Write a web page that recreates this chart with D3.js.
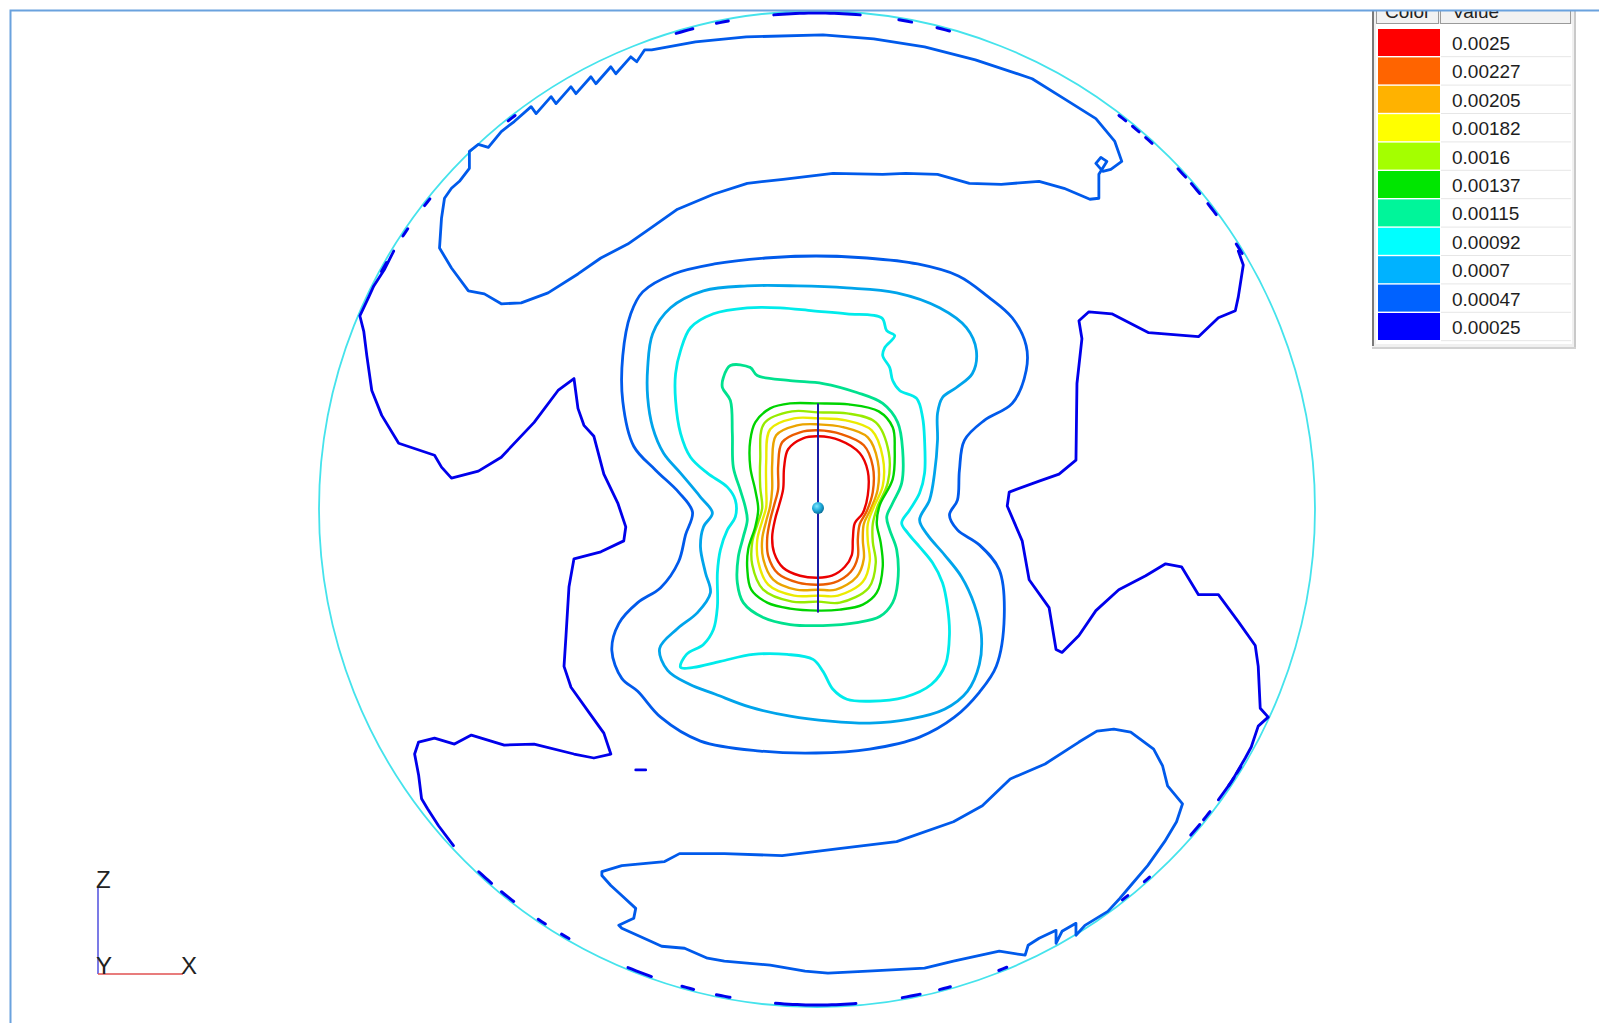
<!DOCTYPE html>
<html>
<head>
<meta charset="utf-8">
<script src="https://cdn.jsdelivr.net/npm/d3@7"></script>
<style>
  html, body { margin: 0; padding: 0; background: #fff; }
  svg { display: block; }
  text { font-family: "Liberation Sans", Arial, sans-serif; }
</style>
</head>
<body>
<div id="chart"></div>
<script>
// legend levels, highest first, and their colours
const levels = ["0.0025", "0.00227", "0.00205", "0.00182", "0.0016", "0.00137", "0.00115", "0.00092", "0.0007", "0.00047", "0.00025"];
const levelColors = ["#ff0000", "#ff6400", "#ffb200", "#ffff00", "#a4ff00", "#00e600", "#00f59a", "#00ffff", "#00b2ff", "#0062ff", "#0000ff"];

// disc radius (mm) and source segment, [x, z] mm from the disc centre
const discRadius = 500;
const sourceLine = [[1, 106], [1, -104]];
const sourcePoint = [1, 1];

// contour rings around the source, [x, z] mm
const ring0025 = [[1,73],[23,69],[43,56],[51,38],[51,14],[46,-4],[38,-14],[36,-30],[35,-46],[28,-58],[15,-67],[1,-69],[-17,-67],[-34,-59],[-43,-44],[-45,-28],[-42,-10],[-38,4],[-34,20],[-33,42],[-29,60],[-14,71]];
const ring00227 = [[1,79],[25,75],[47,64],[56,43],[56,17],[50,-2],[43,-15],[41,-30],[41,-48],[34,-63],[17,-74],[1,-76],[-19,-74],[-39,-65],[-49,-47],[-50,-29],[-47,-11],[-43,4],[-39,20],[-39,43],[-35,67],[-17,77]];
const ring00205 = [[1,85],[27,82],[51,72],[61,48],[61,20],[54,0],[47,-15],[46,-31],[47,-50],[40,-68],[19,-81],[1,-81],[-21,-81],[-44,-71],[-54,-50],[-55,-30],[-51,-12],[-47,3],[-45,20],[-45,45],[-41,74],[-20,84]];
const ring00182 = [[1,91],[29,89],[55,79],[66,52],[66,23],[57,2],[51,-15],[51,-32],[53,-52],[46,-73],[21,-87],[1,-87],[-23,-87],[-49,-76],[-59,-53],[-60,-31],[-55,-12],[-51,2],[-51,21],[-51,47],[-47,80],[-23,91]];
const ring0016 = [[1,97],[30,96],[59,87],[72,57],[71,26],[61,3],[56,-15],[56,-33],[59,-54],[52,-79],[23,-94],[1,-93],[-25,-93],[-54,-81],[-65,-56],[-65,-33],[-59,-13],[-55,1],[-57,22],[-57,49],[-53,86],[-25,98]];
const ring00137 = [[1,106],[32,105],[62,98],[76,82],[78,60],[76,30],[63,4],[60,-14],[64,-34],[66,-58],[60,-84],[46,-96],[23,-101],[1,-102],[-27,-100],[-50,-94],[-66,-81],[-70,-60],[-69,-40],[-62,-18],[-59,0],[-62,19],[-67,42],[-67,69],[-62,87],[-47,101],[-27,106]];
const ring00115 = [[-87,144],[-67,142],[-60,134],[-27,129],[6,126],[40,117],[66,106],[81,87],[86,59],[85,26],[76,6],[70,-8],[73,-21],[80,-41],[81,-74],[76,-94],[63,-108],[40,-114],[6,-117],[-27,-116],[-54,-109],[-74,-94],[-80,-74],[-79,-48],[-74,-28],[-70,-11],[-72,2],[-77,19],[-84,42],[-85,76],[-87,109],[-95,122],[-94,132]];
const ring00092 = [[-137,159],[-127,182],[-104,196],[-70,202],[-37,202],[-4,199],[30,196],[65,192],[70,179],[78,174],[68,162],[66,154],[73,142],[76,129],[83,119],[100,111],[106,92],[108,69],[108,36],[103,16],[93,-1],[85,-14],[91,-24],[103,-38],[116,-54],[126,-74],[131,-98],[133,-126],[129,-156],[115,-176],[88,-189],[53,-193],[30,-191],[16,-181],[6,-163],[-4,-151],[-30,-146],[-64,-146],[-97,-153],[-124,-159],[-137,-159],[-131,-146],[-114,-136],[-104,-121],[-100,-98],[-100,-64],[-97,-41],[-90,-21],[-82,-8],[-82,9],[-90,22],[-110,36],[-127,52],[-137,76],[-142,109],[-142,136]];
const ring0007 = [[-170,142],[-165,176],[-147,202],[-114,219],[-70,224],[-20,224],[30,222],[80,217],[123,202],[150,182],[160,159],[156,136],[140,122],[126,112],[121,96],[121,69],[118,36],[113,9],[103,-11],[111,-26],[128,-46],[145,-68],[158,-96],[165,-126],[163,-156],[151,-183],[128,-201],[93,-211],[53,-215],[13,-213],[-27,-208],[-67,-199],[-102,-186],[-128,-176],[-150,-162],[-158,-140],[-140,-120],[-120,-104],[-107,-84],[-112,-64],[-117,-38],[-114,-18],[-105,-4],[-117,12],[-137,36],[-154,56],[-165,82],[-170,112]];
const ring00047 = [[-175,218],[-144,236],[-103,246],[-52,252],[-1,254],[50,252],[101,246],[142,234],[172,213],[196,192],[210,164],[210,139],[196,106],[168,89],[148,69],[143,39],[141,9],[133,-6],[141,-21],[163,-36],[183,-61],[188,-108],[180,-158],[163,-184],[138,-209],[103,-229],[53,-241],[-1,-245],[-57,-243],[-117,-233],[-157,-209],[-180,-183],[-196,-170],[-206,-142],[-199,-115],[-180,-94],[-157,-79],[-139,-53],[-132,-26],[-125,-3],[-139,17],[-162,39],[-184,63],[-195,108],[-195,154],[-187,196]];

// outer bands (0.00047) near the top and the bottom of the disc
const topBand = [[-349,359],[-340,366],[-330,363],[-317,379],[-304,389],[-287,404],[-282,397],[-267,414],[-262,407],[-247,424],[-242,417],[-227,434],[-222,427],[-207,444],[-202,437],[-187,454],[-181,449],[-173,461],[-166,461],[-122,469],[-71,474],[6,476],[57,472],[108,464],[159,451],[216,432],[248,412],[280,392],[299,369],[306,349],[295,341],[287,339],[280,347],[285,353],[291,349],[283,336],[283,312],[274,311],[248,322],[223,329],[185,326],[153,327],[121,336],[89,337],[66,336],[16,337],[-34,331],[-70,327],[-104,316],[-140,301],[-167,282],[-190,266],[-217,252],[-240,236],[-270,217],[-297,207],[-317,206],[-334,216],[-350,219],[-367,242],[-379,262],[-377,292],[-374,312],[-367,322],[-359,329],[-349,342]];
const bottomBand = [[-216,-364],[-196,-358],[-153,-354],[-138,-346],[-93,-346],[-35,-348],[22,-341],[80,-334],[137,-314],[166,-298],[194,-271],[229,-256],[263,-234],[281,-223],[298,-221],[315,-224],[338,-241],[347,-258],[352,-278],[367,-296],[361,-314],[349,-334],[332,-358],[315,-378],[304,-391],[292,-404],[269,-418],[260,-428],[260,-416],[246,-424],[240,-436],[240,-423],[223,-431],[212,-438],[209,-448],[183,-444],[137,-454],[108,-461],[51,-464],[11,-466],[-12,-464],[-47,-458],[-93,-454],[-110,-451],[-133,-441],[-156,-439],[-167,-434],[-196,-421],[-199,-418],[-184,-411],[-182,-401],[-196,-388],[-207,-378],[-216,-368]];

// outermost 0.00025 contours on the left and right, open lines ending on the rim
const leftOuter = [[-425,259],[-434,241],[-445,224],[-450,213],[-459,194],[-455,178],[-452,154],[-447,119],[-437,94],[-420,66],[-384,54],[-377,42],[-367,31],[-340,38],[-317,52],[-284,87],[-260,119],[-244,131],[-240,101],[-234,84],[-224,73],[-214,35],[-200,6],[-192,-18],[-194,-32],[-217,-43],[-244,-50],[-249,-78],[-252,-127],[-254,-158],[-247,-179],[-227,-207],[-214,-225],[-207,-246],[-224,-250],[-244,-246],[-284,-236],[-314,-237],[-347,-227],[-364,-236],[-384,-230],[-400,-234],[-404,-246],[-400,-267],[-397,-291],[-391,-301],[-380,-318],[-365,-338]];
const rightOuter = [[423,259],[428,245],[423,213],[420,199],[403,192],[383,173],[333,177],[296,196],[273,198],[263,189],[266,171],[261,126],[260,49],[243,35],[223,28],[193,17],[191,3],[206,-32],[213,-71],[233,-99],[240,-141],[246,-144],[263,-127],[280,-102],[303,-81],[330,-67],[350,-55],[366,-58],[383,-86],[403,-86],[423,-113],[440,-137],[443,-158],[445,-200],[453,-209],[443,-218],[436,-239],[430,-250],[416,-274],[403,-292]];
const strayDash = [[-182,-262],[-172,-262]];

// short 0.00025 pieces lying on the rim, [start, end] angle in degrees (counter-clockwise from +x)
const rimDashes = [[85,95],[100.3,101.7],[104.5,106.5],[79,80.5],[74.5,76],[51.5,52.5],[49.5,50.5],[47.5,48.5],[42,43.3],[39.5,41],[36.4,38],[31,32.3],[127.5,128.5],[141.3,142.3],[145.6,146.6],[150.2,151.4],[227,229],[230.5,232.3],[235.8,236.8],[239,240],[247.6,250.5],[254.2,255.6],[258.3,259.9],[265.2,274.5],[279.9,282],[284.3,285.6],[291.5,292.5],[308,308.8],[311.3,312.1],[318.9,320.5],[321.2,322.4],[326.1,327.2],[327.8,328.7]];

// which level each contour belongs to
const contours = [
    { pts: ring0025, level: 0, closed: true, smooth: true },
    { pts: ring00227, level: 1, closed: true, smooth: true },
    { pts: ring00205, level: 2, closed: true, smooth: true },
    { pts: ring00182, level: 3, closed: true, smooth: true },
    { pts: ring0016, level: 4, closed: true, smooth: true },
    { pts: ring00137, level: 5, closed: true, smooth: true },
    { pts: ring00115, level: 6, closed: true, smooth: true },
    { pts: ring00092, level: 7, closed: true, smooth: true },
    { pts: ring0007, level: 8, closed: true, smooth: true },
    { pts: ring00047, level: 9, closed: true, smooth: true },
    { pts: topBand, level: 9, closed: true, smooth: false },
    { pts: bottomBand, level: 9, closed: true, smooth: false },
    { pts: leftOuter, level: 10, closed: false, smooth: false },
    { pts: rightOuter, level: 10, closed: false, smooth: false },
    { pts: strayDash, level: 10, closed: false, smooth: false }
];

const width = 1599, height = 1023;
const cx = 817, cy = 509, rPx = 498;

const svg = d3.select("#chart").append("svg")
    .attr("width", width)
    .attr("height", height);

svg.append("rect").attr("width", width).attr("height", height).attr("fill", "#fff");

const x = d3.scaleLinear().domain([-discRadius, discRadius]).range([cx - rPx, cx + rPx]);
const z = d3.scaleLinear().domain([-discRadius, discRadius]).range([cy + rPx, cy - rPx]);

const lineColor = i => d3.interpolateRgb(levelColors[i], "#000")(0.08);

// disc outline
svg.append("circle")
    .attr("cx", x(0)).attr("cy", z(0))
    .attr("r", x(discRadius) - x(0))
    .attr("fill", "none")
    .attr("stroke", "#45e3ec")
    .attr("stroke-width", 1.8);

// contour lines
const plot = svg.append("g");
contours.forEach(c => {
    const curve = c.closed
        ? (c.smooth ? d3.curveCatmullRomClosed.alpha(0.5) : d3.curveLinearClosed)
        : d3.curveLinear;
    const line = d3.line().x(d => x(d[0])).y(d => z(d[1])).curve(curve);
    plot.append("path")
        .attr("d", line(c.pts))
        .attr("fill", "none")
        .attr("stroke", lineColor(c.level))
        .attr("stroke-width", c.level <= 5 ? 2.4 : 2.8)
        .attr("stroke-linejoin", "round")
        .attr("stroke-linecap", "round");
});

// pieces of the lowest level sitting on the rim
const rimLine = d3.line().x(d => x(d[0])).y(d => z(d[1]));
rimDashes.forEach(([a0, a1]) => {
    const pts = d3.range(a0, a1 + 0.01, 0.5).concat([a1]).map(a => {
        const t = a * Math.PI / 180;
        return [(discRadius - 2) * Math.cos(t), (discRadius - 2) * Math.sin(t)];
    });
    plot.append("path")
        .attr("d", rimLine(pts))
        .attr("fill", "none")
        .attr("stroke", lineColor(10))
        .attr("stroke-width", 3)
        .attr("stroke-linecap", "round");
});

// source segment and point
svg.append("line")
    .attr("x1", x(sourceLine[0][0])).attr("y1", z(sourceLine[0][1]))
    .attr("x2", x(sourceLine[1][0])).attr("y2", z(sourceLine[1][1]))
    .attr("stroke", "#1c1ca8")
    .attr("stroke-width", 2);

const grad = svg.append("defs").append("radialGradient")
    .attr("id", "ball").attr("cx", "40%").attr("cy", "35%").attr("r", "65%");
grad.append("stop").attr("offset", "0%").attr("stop-color", "#7fe6ff");
grad.append("stop").attr("offset", "60%").attr("stop-color", "#1aa6d6");
grad.append("stop").attr("offset", "100%").attr("stop-color", "#0b6f98");

svg.append("circle")
    .attr("cx", x(sourcePoint[0])).attr("cy", z(sourcePoint[1]))
    .attr("r", 6)
    .attr("fill", "url(#ball)");

// legend table in the top right corner
const legClip = svg.append("clipPath").attr("id", "legclip");
legClip.append("rect").attr("x", 1360).attr("y", 11).attr("width", 230).attr("height", 360);

const leg = svg.append("g").attr("clip-path", "url(#legclip)");
const rowTop = 29, rowH = 28.4;

leg.append("rect")
    .attr("x", 1372).attr("y", 0).attr("width", 203).attr("height", 348)
    .attr("fill", "#f0f0f0");
leg.append("line")
    .attr("x1", 1575).attr("x2", 1575).attr("y1", 0).attr("y2", 349)
    .attr("stroke", "#c9c9c9").attr("stroke-width", 2);
leg.append("line")
    .attr("x1", 1372).attr("x2", 1576).attr("y1", 348).attr("y2", 348)
    .attr("stroke", "#d2d2d2").attr("stroke-width", 2);
leg.append("line")
    .attr("x1", 1373).attr("x2", 1373).attr("y1", 0).attr("y2", 346)
    .attr("stroke", "#7a7a7a").attr("stroke-width", 2);
leg.append("rect")
    .attr("x", 1376).attr("y", 24).attr("width", 196).attr("height", 320)
    .attr("fill", "#fff");

// header cells
leg.append("rect").attr("x", 1376.5).attr("y", -6).attr("width", 62).attr("height", 29.5)
    .attr("fill", "#f2f2f2").attr("stroke", "#9a9a9a");
leg.append("rect").attr("x", 1440.5).attr("y", -6).attr("width", 130).attr("height", 29.5)
    .attr("fill", "#f2f2f2").attr("stroke", "#9a9a9a");
leg.append("text").attr("x", 1385).attr("y", 18).attr("font-size", 19).attr("fill", "#222").text("Color");
leg.append("text").attr("x", 1452).attr("y", 18).attr("font-size", 19).attr("fill", "#222").text("Value");

const rows = leg.selectAll("g.row")
    .data(levels)
    .join("g")
    .attr("class", "row")
    .attr("transform", (d, i) => `translate(0,${rowTop + i * rowH})`);

rows.append("rect")
    .attr("x", 1378).attr("y", 0).attr("width", 62).attr("height", 27)
    .attr("fill", (d, i) => levelColors[i]);
rows.append("line")
    .attr("x1", 1441).attr("x2", 1571).attr("y1", 27.7).attr("y2", 27.7)
    .attr("stroke", "#e6e6e6").attr("stroke-width", 1);
rows.append("text")
    .attr("x", 1452).attr("y", 21)
    .attr("font-size", 19)
    .attr("fill", "#1e1e1e")
    .text(d => d);

// frame of the viewport
svg.append("rect")
    .attr("x", 10.5).attr("y", 10.5)
    .attr("width", width).attr("height", height)
    .attr("fill", "none")
    .attr("stroke", "#6aa2de")
    .attr("stroke-width", 2);

// axis triad, bottom left
const triad = svg.append("g");
triad.append("line").attr("x1", 98).attr("y1", 974).attr("x2", 98).attr("y2", 886)
    .attr("stroke", "#5a5ae0").attr("stroke-width", 1.6);
triad.append("line").attr("x1", 98).attr("y1", 974).attr("x2", 183).attr("y2", 974)
    .attr("stroke", "#e05050").attr("stroke-width", 1.6);
triad.append("text").attr("x", 96).attr("y", 888).attr("font-size", 24).attr("fill", "#222").text("Z");
triad.append("text").attr("x", 96).attr("y", 974).attr("font-size", 24).attr("fill", "#222").text("Y");
triad.append("text").attr("x", 181).attr("y", 974).attr("font-size", 24).attr("fill", "#222").text("X");
</script>
</body>
</html>
